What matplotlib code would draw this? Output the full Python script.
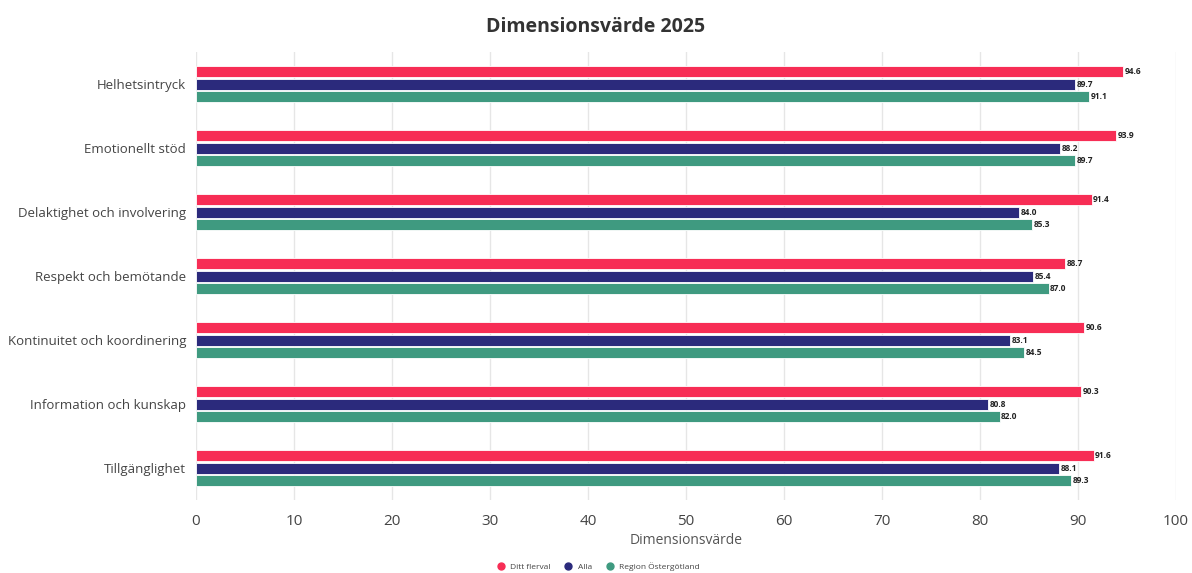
import matplotlib.pyplot as plt
import matplotlib.lines as mlines
import numpy as np

categories = ["Helhetsintryck", "Emotionellt stöd", "Delaktighet och involvering",
              "Respekt och bemötande", "Kontinuitet och koordinering",
              "Information och kunskap", "Tillgänglighet"]
ditt_flerval = [94.6, 93.9, 91.4, 88.7, 90.6, 90.3, 91.6]
alla = [89.7, 88.2, 84.0, 85.4, 83.1, 80.8, 88.1]
region = [91.1, 89.7, 85.3, 87.0, 84.5, 82.0, 89.3]
series_names = ["Ditt flerval", "Alla", "Region Östergötland"]
colors = ["#f72d55", "#2b2a7c", "#3f9a80"]
x_ticks = [0, 10, 20, 30, 40, 50, 60, 70, 80, 90, 100]

plt.rcParams['font.family'] = ['Open Sans', 'DejaVu Sans']

fig = plt.figure(figsize=(11.92, 5.73), dpi=100)
ax = fig.add_axes([0.1644, 0.127, 0.8222, 0.782])

y = np.arange(len(categories))
offsets = [-0.195, 0, 0.195]
for vals, name, col, off in zip([ditt_flerval, alla, region], series_names, colors, offsets):
    bars = ax.barh(y + off, vals, height=0.17, color=col, edgecolor="white",
                   linewidth=0.6, label=name, zorder=3)
    for b, v in zip(bars, vals):
        ax.text(b.get_width() + 0.15, b.get_y() + b.get_height() / 2, f"{v:.1f}",
                va="center", ha="left", fontsize=6, fontweight="bold", color="#222222")

ax.set_ylim(len(categories) - 0.5, -0.5)
ax.set_xlim(0, 100)
ax.set_xticks(x_ticks)
ax.set_yticks(y)
ax.set_yticklabels(categories)
ax.tick_params(axis="x", labelsize=11, colors="#444444", length=0, pad=10)
ax.tick_params(axis="y", labelsize=9.5, colors="#444444", length=0, pad=7)
ax.grid(axis="x", color="#e6e6e6", linewidth=1, zorder=0)
for s in ax.spines.values():
    s.set_visible(False)

ax.set_xlabel("Dimensionsvärde", fontsize=10, color="#555555", labelpad=3)
fig.suptitle("Dimensionsvärde 2025", fontsize=14, fontweight="bold", color="#333333", y=0.97)

handles = [mlines.Line2D([], [], marker="o", linestyle="none", markersize=5,
                         markerfacecolor=c, markeredgecolor=c, label=n)
           for c, n in zip(colors, series_names)]
fig.legend(handles=handles, loc="center", bbox_to_anchor=(0.5, 0.011), ncol=3,
           frameon=False, fontsize=6, handletextpad=0.1, columnspacing=1.2,
           labelcolor="#444444")

fig.savefig("out.png", dpi=100)
